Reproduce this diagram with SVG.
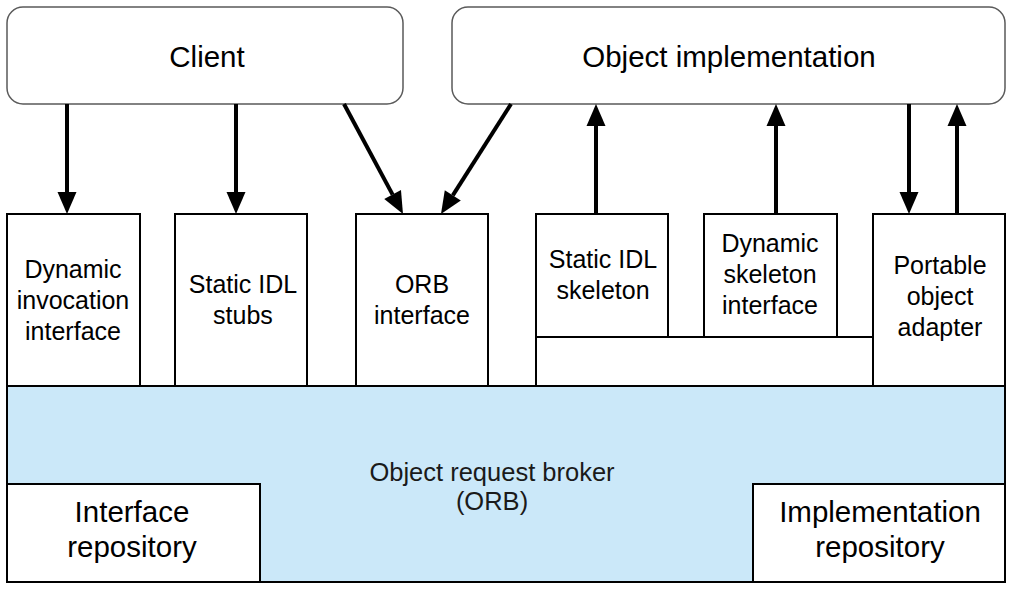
<svg xmlns="http://www.w3.org/2000/svg" width="1018" height="594" viewBox="0 0 1018 594">
<style>
text{font-family:"Liberation Sans",Arial,sans-serif;fill:#000;text-anchor:middle}
.big{font-size:29.5px}
.sm{font-size:25px}
.orb{font-size:25.5px;fill:#1a1a1a}
.top{fill:#fff;stroke:#5a5a5a;stroke-width:1.5}
.box{fill:#fff;stroke:#000;stroke-width:2}
.conn{stroke:#000;stroke-width:4;fill:none}
</style>
<defs>
<marker id="ah" markerUnits="userSpaceOnUse" markerWidth="22" markerHeight="19" refX="0" refY="9.5" orient="auto" overflow="visible">
<path d="M0,0 L22,9.5 L0,19 z" fill="#000"/>
</marker>
</defs>
<rect width="1018" height="594" fill="#fff"/>
<g id="orb">
<rect x="7" y="386" width="998" height="196" fill="#cbe8f9" stroke="#000" stroke-width="2"/>
<text class="orb" x="492" y="481">Object request broker</text>
<text class="orb" x="492" y="510">(ORB)</text>
</g>
<g id="interface-repository">
<rect class="box" x="7" y="484" width="253" height="98"/>
<text class="big" x="132" y="522">Interface</text>
<text class="big" x="132" y="557">repository</text>
</g>
<g id="implementation-repository">
<rect class="box" x="753" y="484" width="252" height="98"/>
<text class="big" x="880" y="522">Implementation</text>
<text class="big" x="880" y="557">repository</text>
</g>
<g id="client">
<rect class="top" x="7" y="7" width="396" height="97" rx="16"/>
<text class="big" x="207" y="67">Client</text>
</g>
<g id="object-implementation">
<rect class="top" x="452" y="7" width="553" height="97" rx="16"/>
<text class="big" x="729" y="67">Object implementation</text>
</g>
<g id="dynamic-invocation">
<rect class="box" x="7" y="214" width="133" height="172"/>
<text class="sm" x="73" y="278">Dynamic</text>
<text class="sm" x="73" y="309">invocation</text>
<text class="sm" x="73" y="340">interface</text>
</g>
<g id="static-idl-stubs">
<rect class="box" x="175" y="214" width="132" height="172"/>
<text class="sm" x="243" y="293">Static IDL</text>
<text class="sm" x="243" y="324">stubs</text>
</g>
<g id="orb-interface">
<rect class="box" x="356" y="214" width="132" height="172"/>
<text class="sm" x="422" y="293">ORB</text>
<text class="sm" x="422" y="324">interface</text>
</g>
<g id="adapter-base">
<path d="M536,386 V337 H873" fill="none" stroke="#000" stroke-width="2"/>
</g>
<g id="static-idl-skeleton">
<rect class="box" x="536" y="214" width="132" height="123"/>
<text class="sm" x="603" y="268">Static IDL</text>
<text class="sm" x="603" y="299">skeleton</text>
</g>
<g id="dynamic-skeleton">
<rect class="box" x="704" y="214" width="133" height="123"/>
<text class="sm" x="770" y="252">Dynamic</text>
<text class="sm" x="770" y="283">skeleton</text>
<text class="sm" x="770" y="314">interface</text>
</g>
<g id="portable-object-adapter">
<rect class="box" x="873" y="214" width="132" height="172"/>
<text class="sm" x="940" y="274">Portable</text>
<text class="sm" x="940" y="305">object</text>
<text class="sm" x="940" y="336">adapter</text>
</g>
<g id="connectors">
<line class="conn" x1="67" y1="104" x2="67" y2="192" marker-end="url(#ah)"/>
<line class="conn" x1="236" y1="104" x2="236" y2="192" marker-end="url(#ah)"/>
<line class="conn" x1="344" y1="104" x2="392.6" y2="194.6" marker-end="url(#ah)"/>
<line class="conn" x1="511" y1="104" x2="452.8" y2="195.4" marker-end="url(#ah)"/>
<line class="conn" x1="596" y1="214" x2="596" y2="126" marker-end="url(#ah)"/>
<line class="conn" x1="776" y1="214" x2="776" y2="126" marker-end="url(#ah)"/>
<line class="conn" x1="909" y1="104" x2="909" y2="192" marker-end="url(#ah)"/>
<line class="conn" x1="957" y1="214" x2="957" y2="126" marker-end="url(#ah)"/>
</g>
</svg>
